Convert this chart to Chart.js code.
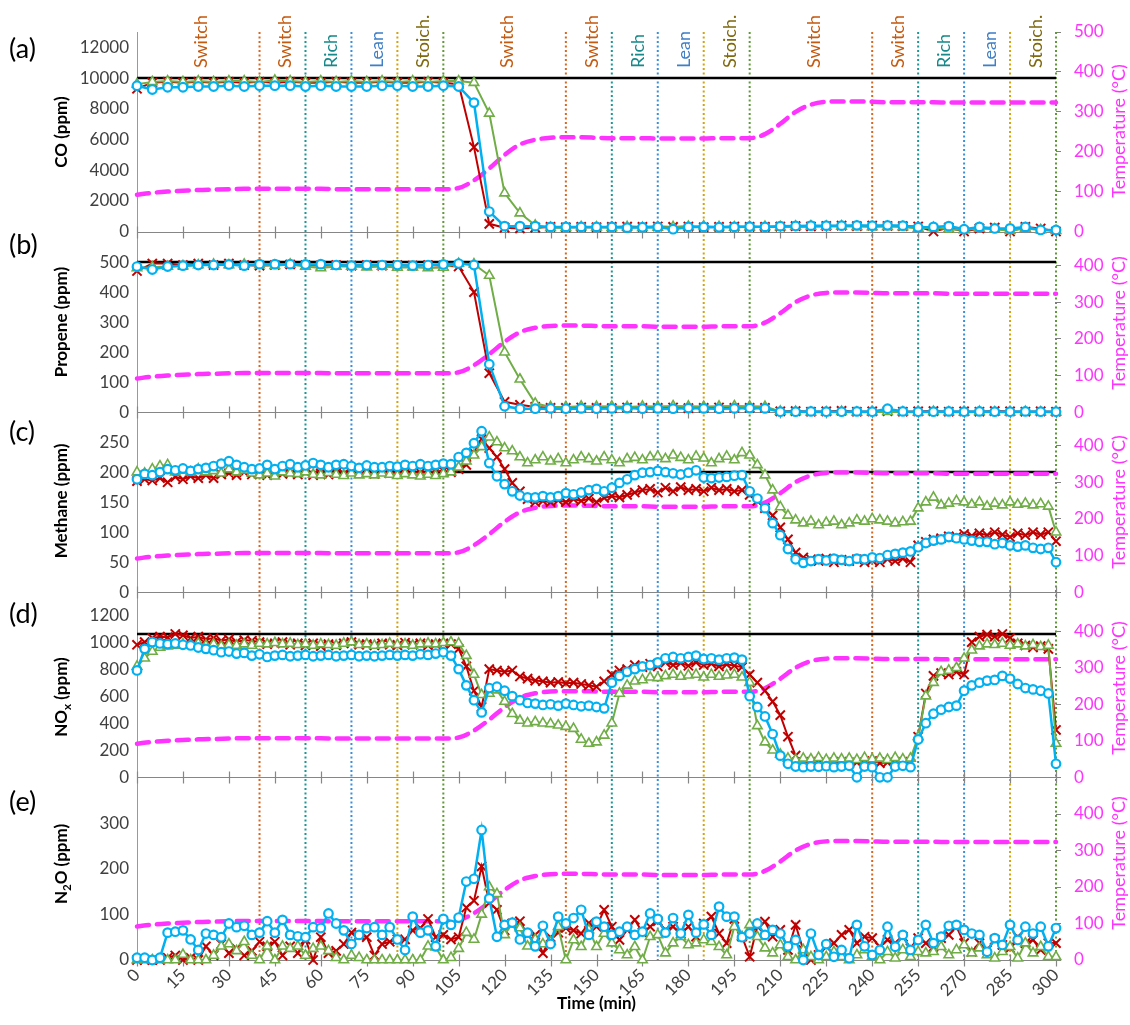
<!DOCTYPE html>
<html><head><meta charset="utf-8">
<script src="https://cdn.jsdelivr.net/npm/chart.js@4.4.1/dist/chart.umd.min.js"></script>
<style>
html,body{margin:0;padding:0;background:#fff;}
#wrap{position:relative;width:1130px;height:1025px;overflow:hidden;background:#fff;}
#wrap canvas{position:absolute;left:0;top:0;width:1130px;height:1025px;}
</style></head><body>
<div id="wrap">
<canvas id="cA" width="1130" height="1025"></canvas>
<canvas id="cB" width="1130" height="1025"></canvas>
<canvas id="cC" width="1130" height="1025"></canvas>
<canvas id="cD" width="1130" height="1025"></canvas>
<canvas id="cE" width="1130" height="1025"></canvas>
</div>
<script>
// ---------- DATA ----------
const timeCoarse = [0,5,10,15,20,25,30,35,40,45,50,55,60,65,70,75,80,85,90,95,100,105,110,115,120,125,130,135,140,145,150,155,160,165,170,175,180,185,190,195,200,205,210,215,220,225,230,235,240,245,250,255,260,265,270,275,280,285,290,295,300];
const timeFine = [0,2.5,5,7.5,10,12.5,15,17.5,20,22.5,25,27.5,30,32.5,35,37.5,40,42.5,45,47.5,50,52.5,55,57.5,60,62.5,65,67.5,70,72.5,75,77.5,80,82.5,85,87.5,90,92.5,95,97.5,100,102.5,105,107.5,110,112.5,115,117.5,120,122.5,125,127.5,130,132.5,135,137.5,140,142.5,145,147.5,150,152.5,155,157.5,160,162.5,165,167.5,170,172.5,175,177.5,180,182.5,185,187.5,190,192.5,195,197.5,200,202.5,205,207.5,210,212.5,215,217.5,220,222.5,225,227.5,230,232.5,235,237.5,240,242.5,245,247.5,250,252.5,255,257.5,260,262.5,265,267.5,270,272.5,275,277.5,280,282.5,285,287.5,290,292.5,295,297.5,300];

// tick labels
const timeTicks = [0,15,30,45,60,75,90,105,120,135,150,165,180,195,210,225,240,255,270,285,300];
const coTicks = [0,2000,4000,6000,8000,10000,12000];
const propeneTicks = [0,100,200,300,400,500];
const methaneTicks = [0,50,100,150,200,250];
const noxTicks = [0,200,400,600,800,1000,1200];
const n2oTicks = [0,100,200,300];
const tempTicks500 = [0,100,200,300,400,500];
const tempTicks400 = [0,100,200,300,400];

const temperature = [92,97,100,102,104,105,106,107,107,107,
 107,107,107,106,106,106,106,106,106,106,
 106,109,128,158,192,218,230,235,236,236,
 235,234,234,234,233,233,233,233,234,234,
 234,244,270,300,318,325,326,326,325,324,
 324,324,324,323,323,323,323,323,323,323,
 323];

// (a) CO (ppm) - 5 min
const coRed = [9300,9700,9750,9700,9750,9700,9750,9700,9750,9700,
 9750,9700,9700,9750,9700,9700,9750,9700,9700,9750,
 9700,9600,5500,500,250,200,250,300,280,300,
 280,300,320,300,330,300,320,280,300,320,
 300,300,320,350,330,360,380,350,380,360,
 350,330,0,250,0,200,250,0,300,200,
 0];
const coGreen = [9600,9750,9800,9750,9800,9750,9800,9800,9750,9850,
 9800,9750,9800,9750,9800,9750,9800,9750,9800,9750,
 9800,9800,9700,7700,2500,1200,400,250,250,300,
 280,250,300,250,280,300,320,350,300,280,
 300,320,300,330,350,330,350,320,300,320,
 300,200,250,150,100,200,150,50,200,100,
 50];
const coBlue = [9500,9250,9400,9400,9450,9450,9500,9450,9500,9500,
 9500,9450,9500,9450,9450,9450,9500,9500,9450,9450,
 9500,9450,8400,1300,350,350,350,300,300,300,
 300,300,250,280,300,150,300,300,280,300,
 320,300,350,360,380,380,380,400,380,400,
 380,280,300,350,150,300,200,200,300,100,
 100];

// (b) Propene (ppm) - 5 min
const prRed = [470,495,495,490,495,490,495,490,488,490,
 492,490,488,490,488,490,488,490,488,490,
 488,485,400,130,35,25,18,15,15,16,
 15,14,16,15,15,16,14,15,16,15,
 15,15,3,4,2,3,5,2,3,4,
 2,3,4,2,3,2,4,3,2,3,
 2];
const prGreen = [480,483,485,487,490,492,490,492,490,488,
 492,485,480,485,485,483,485,482,483,480,
 482,495,493,455,200,110,30,18,18,20,
 19,20,18,20,19,21,20,19,20,21,
 20,19,3,2,0,1,2,0,1,2,
 1,0,2,1,0,2,1,0,2,1,
 0];
const prBlue = [485,475,485,488,490,490,492,488,493,493,
 493,492,493,490,488,490,490,490,488,490,
 492,495,490,160,20,12,12,13,12,13,
 12,13,14,12,13,12,14,13,12,13,
 14,13,2,2,3,2,2,3,2,12,
 3,2,2,3,2,3,2,2,3,2,
 2];

// (c) Methane (ppm) - 2.5 min
const meRed = [185,188,186,190,183,192,188,193,190,195,
 190,196,198,195,200,196,198,195,200,197,
 198,196,200,195,198,196,199,197,200,198,
 199,197,200,198,200,198,200,199,200,201,
 202,200,205,212,232,255,240,225,205,182,
 168,155,150,152,150,153,150,155,152,156,
 150,157,160,158,162,166,170,172,166,174,
 168,175,170,172,168,174,170,172,168,170,
 162,152,140,128,108,88,66,58,55,52,
 56,50,54,52,55,50,53,50,55,52,
 56,50,78,84,88,90,93,92,97,94,
 98,95,100,96,92,98,95,100,96,100,
 85];
const meGreen = [200,198,205,210,212,200,203,200,205,200,
 202,198,205,200,203,198,195,198,193,200,
 198,197,200,196,195,199,196,194,198,195,
 197,195,198,196,194,197,195,193,196,194,
 197,200,208,218,228,242,258,250,240,235,
 225,215,220,225,218,222,215,220,225,222,
 218,225,220,215,222,224,220,225,226,222,
 228,224,220,226,223,215,222,226,220,232,
 228,212,195,170,142,128,120,115,118,112,
 116,118,112,115,120,118,122,120,118,115,
 117,118,140,150,158,145,148,152,150,146,
 150,143,148,145,150,146,148,145,147,143,
 100];
const meBlue = [188,197,195,200,205,203,206,202,205,207,
 210,214,218,212,208,205,206,212,205,210,
 213,208,211,215,212,208,212,213,210,207,
 211,208,208,210,209,212,210,213,210,212,
 214,213,225,232,248,268,215,193,180,168,
 161,158,158,160,158,160,165,163,166,170,
 172,168,174,182,188,195,199,200,202,200,
 198,196,199,203,191,190,191,192,194,195,
 168,156,140,115,95,72,55,49,52,55,
 53,56,54,52,56,55,58,57,62,64,
 66,68,75,82,86,88,92,90,88,86,
 84,84,80,82,78,76,78,74,72,74,
 50];

// (d) NOx (ppm) - 2.5 min
const noRed = [980,1000,1030,1040,1035,1060,1050,1030,1040,1020,
 1030,1010,1020,1000,1015,1010,1000,985,990,1000,
 980,990,975,990,970,985,975,990,1000,980,
 985,975,990,980,975,995,980,990,975,985,
 990,985,950,820,640,520,800,790,780,790,
 745,730,715,710,700,705,695,700,690,680,
 670,710,760,790,800,830,815,840,820,850,
 830,845,825,850,830,840,820,835,825,815,
 760,700,640,560,460,300,160,110,115,105,
 110,100,115,105,110,100,120,105,110,100,
 115,100,300,620,750,770,760,780,760,1000,
 1040,1055,1040,1060,1030,990,975,960,970,950,
 350];
const noGreen = [820,880,930,960,970,975,985,980,990,975,
 985,970,980,975,985,975,990,985,995,985,
 990,980,985,975,985,980,975,990,1000,980,
 985,975,980,990,980,985,975,985,990,985,
 995,1000,990,900,760,610,620,645,560,470,
 420,400,410,400,395,385,375,360,280,250,
 260,310,400,620,680,710,720,740,735,750,
 760,745,755,760,740,760,745,755,760,740,
 700,380,260,200,170,140,130,140,135,145,
 130,140,135,140,130,145,135,140,130,145,
 135,140,300,600,700,780,790,810,880,940,
 970,985,980,990,975,985,970,980,965,975,
 250];
const noBlue = [790,950,1000,990,985,990,980,975,960,950,
 940,925,930,915,920,900,910,890,900,905,
 895,900,905,895,900,905,895,900,905,895,
 900,895,900,905,900,905,900,910,905,915,
 925,900,800,680,570,480,660,670,640,600,
 570,550,545,535,540,530,545,535,525,530,
 520,510,700,750,780,800,820,830,850,880,
 890,880,890,900,875,880,870,880,885,870,
 600,520,450,320,160,100,80,75,80,78,
 82,75,80,85,0,80,75,0,0,80,
 85,75,280,400,470,500,520,530,640,680,
 700,715,720,750,730,690,660,650,640,620,
 100];

// (e) N2O (ppm) - 2.5 min
const n2Red = [0,0,0,0,5,10,0,5,0,30,
 10,35,15,25,10,20,40,30,40,10,
 30,15,45,0,50,15,20,35,60,55,
 50,10,35,40,45,45,65,70,90,50,
 55,45,50,115,130,205,125,110,65,80,
 85,55,55,15,50,60,70,65,58,81,
 73,110,73,44,66,88,60,73,85,66,
 73,58,73,51,80,95,58,37,90,51,
 7,73,84,51,66,22,77,22,0,11,
 29,37,55,66,37,51,48,29,44,37,
 51,26,48,37,29,48,55,73,37,18,
 37,22,44,33,26,51,37,44,22,37,
 37];
const n2Green = [0,0,0,0,0,0,12,0,0,0,
 10,30,35,20,40,10,0,30,0,30,
 25,30,10,25,30,20,5,0,10,5,
 0,0,0,0,0,0,0,0,30,28,
 0,5,25,60,45,100,160,145,55,80,
 70,30,45,35,40,73,0,44,29,66,
 29,58,37,22,11,29,0,51,55,15,
 37,51,33,37,44,40,29,11,73,51,
 77,51,26,15,33,7,0,22,7,0,
 7,18,7,0,11,22,7,0,18,4,
 22,7,18,15,18,29,11,22,33,15,
 26,11,4,18,29,4,37,15,29,7,
 7];
const n2Blue = [5,5,0,5,60,62,65,45,22,58,
 55,50,80,72,75,55,60,85,60,88,
 55,52,50,72,70,102,80,65,35,55,
 70,72,55,72,45,22,95,60,65,30,
 90,77,93,172,178,285,135,51,77,82,
 45,60,30,75,35,95,80,92,110,55,
 84,73,55,62,73,55,62,102,90,60,
 92,58,99,60,78,55,117,95,95,50,
 58,80,55,66,58,30,44,0,58,11,
 35,7,22,4,77,30,11,22,73,29,
 55,22,44,77,37,51,75,77,66,58,
 55,18,48,33,77,44,73,58,73,30,
 70];

// feed reference levels (black lines)
const feedCO = 10000, feedPropene = 500, feedMethane = 200, feedNOx = 1060;

// phase boundaries and labels
const phaseTimes = [40,55,70,85,100,140,155,170,185,200,240,255,270,285,300];
const phaseKinds = ['switch','rich','lean','stoich','end','switch','rich','lean','stoich','end','switch','rich','lean','stoich','end'];
const stateTexts = ['Switch','Switch','Rich','Lean','Stoich.','Switch','Switch','Rich','Lean','Stoich.','Switch','Switch','Rich','Lean','Stoich.'];
const stateTimes = [21,48.5,63.5,78.5,93.5,121,148.5,163.5,178.5,193.5,221,248.5,263.5,278.5,293.5];
const panelLetters = ['(a)','(b)','(c)','(d)','(e)'];

// ---------- STYLE ----------
const FONT = "Lato, 'Open Sans', 'DejaVu Sans', sans-serif";
const lineColors = {switch:'#D9661F', rich:'#1C9696', lean:'#3A8FDB', stoich:'#D4A20F', end:'#5E9A35'};
const textColors = {Switch:'#C55A11', Rich:'#17898A', Lean:'#3F7FC6', 'Stoich.':'#7F6A10'};
const MAG = '#FF33FF';

const panels = [
  {id:'cA', top:32, bottom:231.5, lmax:13000, lticks:coTicks, rmax:500, rticks:tempTicks500,
   title:[{t:'CO (ppm)'}], lty:132, rty:131, ref:feedCO, t:timeCoarse, red:coRed, green:coGreen, blue:coBlue, label:49},
  {id:'cB', top:247, bottom:412.3, lmax:550, lticks:propeneTicks, rmax:450, rticks:tempTicks400,
   title:[{t:'Propene (ppm)'}], lty:322, rty:323, ref:feedPropene, t:timeCoarse, red:prRed, green:prGreen, blue:prBlue, label:245},
  {id:'cC', top:427, bottom:592.3, lmax:275, lticks:methaneTicks, rmax:450, rticks:tempTicks400,
   title:[{t:'Methane (ppm)'}], lty:501, rty:502, ref:feedMethane, t:timeFine, red:meRed, green:meGreen, blue:meBlue, label:432},
  {id:'cD', top:613, bottom:777.3, lmax:1215, lticks:noxTicks, rmax:450, rticks:tempTicks400,
   title:[{t:'NO'},{t:'x',sub:true},{t:' (ppm)'}], lty:697, rty:688, ref:feedNOx, t:timeFine, red:noRed, green:noGreen, blue:noBlue, label:614},
  {id:'cE', top:777.5, bottom:960, lmax:400, lticks:n2oTicks, rmax:500, rticks:tempTicks400,
   title:[{t:'N'},{t:'2',sub:true},{t:'O (ppm)'}], lty:864, rty:863, ref:null, t:timeFine, red:n2Red, green:n2Green, blue:n2Blue, label:802}
];

function pts(t, v){ return t.map((x,i)=>({x:x, y:v[i]})); }

function datasetsFor(p){
  const ds = [
    {label:'blue', data:pts(p.t,p.blue), yAxisID:'y', borderColor:'#00B0F0', borderWidth:2.5,
     pointStyle:'circle', pointRadius:4.3, pointBorderWidth:2.2, pointBorderColor:'#00B0F0', pointBackgroundColor:'#fff', tension:0, clip:false},
    {label:'green', data:pts(p.t,p.green), yAxisID:'y', borderColor:'#70AD47', borderWidth:2,
     pointStyle:'triangle', pointRadius:5.5, pointBorderWidth:1.6, pointBorderColor:'#70AD47', pointBackgroundColor:'#fff', tension:0, clip:false},
    {label:'red', data:pts(p.t,p.red), yAxisID:'y', borderColor:'#C00000', borderWidth:2,
     pointStyle:'crossRot', pointRadius:6.5, pointBorderWidth:2, pointBorderColor:'#C00000', pointBackgroundColor:'#C00000', tension:0, clip:false},
    {label:'temp', data:pts(timeCoarse,temperature), yAxisID:'y2', borderColor:MAG, borderWidth:4.5,
     borderDash:[12,8], borderCapStyle:'round', pointRadius:0, cubicInterpolationMode:'monotone', clip:false}
  ];
  if (p.ref !== null) ds.push({label:'ref', data:[{x:0,y:p.ref},{x:300,y:p.ref}], yAxisID:'y', borderColor:'#000', borderWidth:2.5, pointRadius:0, clip:false});
  return ds;
}

function drawRich(ctx, segs, cx, cy, size, color, bold){
  const f = (s)=> (bold?'bold ':'') + s + 'px ' + FONT;
  let W = 0; const ws = [];
  segs.forEach(s=>{ ctx.font = f(s.sub? size*0.68 : size); const w = ctx.measureText(s.t).width; ws.push(w); W += w; });
  ctx.save(); ctx.translate(cx, cy); ctx.rotate(-Math.PI/2);
  ctx.fillStyle = color; ctx.textBaseline = 'middle'; ctx.textAlign = 'left';
  let x = -W/2;
  segs.forEach((s,i)=>{ ctx.font = f(s.sub? size*0.68 : size); ctx.fillText(s.t, x, s.sub? 5 : 0); x += ws[i]; });
  ctx.restore();
}

function panelPlugin(p){
  return {
    id:'panelDeco'+p.id,
    beforeDatasetsDraw(chart){
      const ctx = chart.ctx, xs = chart.scales.x, ca = chart.chartArea;
      ctx.save();
      ctx.strokeStyle = '#868686'; ctx.lineWidth = 1.2; ctx.setLineDash([]);
      const yb = Math.round(ca.bottom) + 0.5;
      ctx.beginPath(); ctx.moveTo(ca.left, yb); ctx.lineTo(ca.right, yb); ctx.stroke();
      timeTicks.forEach(v=>{
        const x = Math.round(xs.getPixelForValue(v)) + 0.5;
        ctx.beginPath(); ctx.moveTo(x, yb-6); ctx.lineTo(x, yb+6); ctx.stroke();
      });
      ctx.restore();
    },
    afterDraw(chart){
      const ctx = chart.ctx;
      drawRich(ctx, p.title, 62, p.lty, 17, '#000', true);
      drawRich(ctx, [{t:'Temperature (°C)'}], 1119, p.rty, 18, MAG, false);
    }
  };
}

const globalPlugin = {
  id:'globalDeco',
  beforeDatasetsDraw(chart){
    const ctx = chart.ctx, xs = chart.scales.x;
    const top = panels[0].top, bot = panels[4].bottom;
    ctx.save();
    ctx.strokeStyle = '#999999'; ctx.lineWidth = 1;
    ctx.beginPath(); ctx.moveTo(Math.round(xs.left)+0.5, top); ctx.lineTo(Math.round(xs.left)+0.5, bot); ctx.stroke();
    ctx.lineWidth = 2; ctx.setLineDash([2,2.5]);
    phaseTimes.forEach((t,i)=>{
      const x = xs.getPixelForValue(t);
      ctx.strokeStyle = lineColors[phaseKinds[i]];
      ctx.beginPath(); ctx.moveTo(x, top); ctx.lineTo(x, bot); ctx.stroke();
    });
    ctx.restore();
  },
  afterDraw(chart){
    const ctx = chart.ctx, xs = chart.scales.x;
    ctx.save();
    ctx.font = '18px ' + FONT; ctx.textBaseline = 'middle'; ctx.textAlign = 'left';
    stateTexts.forEach((s,i)=>{
      const x = xs.getPixelForValue(stateTimes[i]);
      ctx.save(); ctx.translate(x, 68); ctx.rotate(-Math.PI/2);
      ctx.fillStyle = textColors[s]; ctx.fillText(s, 0, 0); ctx.restore();
    });
    ctx.font = '27px ' + FONT; ctx.fillStyle = '#000';
    panels.forEach((p,i)=>{ ctx.fillText(panelLetters[i], 9, p.label); });
    ctx.restore();
  }
};

const asTicks = arr => arr.map(v=>({value:v}));

panels.forEach((p, idx)=>{
  const last = idx === panels.length - 1;
  const xScale = last ? {
      type:'linear', min:0, max:300, position:'bottom',
      afterBuildTicks(s){ s.ticks = asTicks(timeTicks); },
      ticks:{autoSkip:false, maxRotation:45, minRotation:45, padding:5, color:'#404040', font:{family:FONT, size:17}, callback:v=>String(v)},
      grid:{display:false, drawTicks:false}, border:{display:false},
      title:{display:true, text:'Time (min)', color:'#000', font:{family:FONT, size:17, weight:'bold'}, padding:{top:0, bottom:11}},
      afterFit(s){ s.height = 65; s.paddingLeft = 0; s.paddingRight = 0; }
    } : { type:'linear', min:0, max:300, display:false };
  new Chart(document.getElementById(p.id), {
    type:'line',
    data:{datasets:datasetsFor(p)},
    options:{
      responsive:false, animation:false, devicePixelRatio:1, events:[],
      layout:{padding:{top:p.top, bottom: last ? 0 : 1025 - p.bottom, left:0, right:0}},
      plugins:{legend:{display:false}, tooltip:{enabled:false}},
      scales:{
        x: xScale,
        y:{type:'linear', position:'left', min:0, max:p.lmax,
           afterBuildTicks(s){ s.ticks = asTicks(p.lticks); },
           ticks:{autoSkip:false, color:'#404040', font:{family:FONT, size:17}, padding:8, callback:v=>String(v)},
           grid:{display:false, drawTicks:false}, border:{display:false},
           afterFit(s){ s.width = 137; s.paddingTop = 0; s.paddingBottom = 0; }},
        y2:{type:'linear', position:'right', min:0, max:p.rmax,
           afterBuildTicks(s){ s.ticks = asTicks(p.rticks); },
           ticks:{autoSkip:false, color:MAG, font:{family:FONT, size:17}, padding:13, callback:v=>String(v)},
           grid:{display:true, drawOnChartArea:false, drawTicks:true, tickLength:5, color:'#808080'},
           border:{display:false},
           afterFit(s){ s.width = 74; s.paddingTop = 0; s.paddingBottom = 0; }}
      }
    },
    plugins: idx === 0 ? [globalPlugin, panelPlugin(p)] : [panelPlugin(p)]
  });
});
</script>
</body></html>
